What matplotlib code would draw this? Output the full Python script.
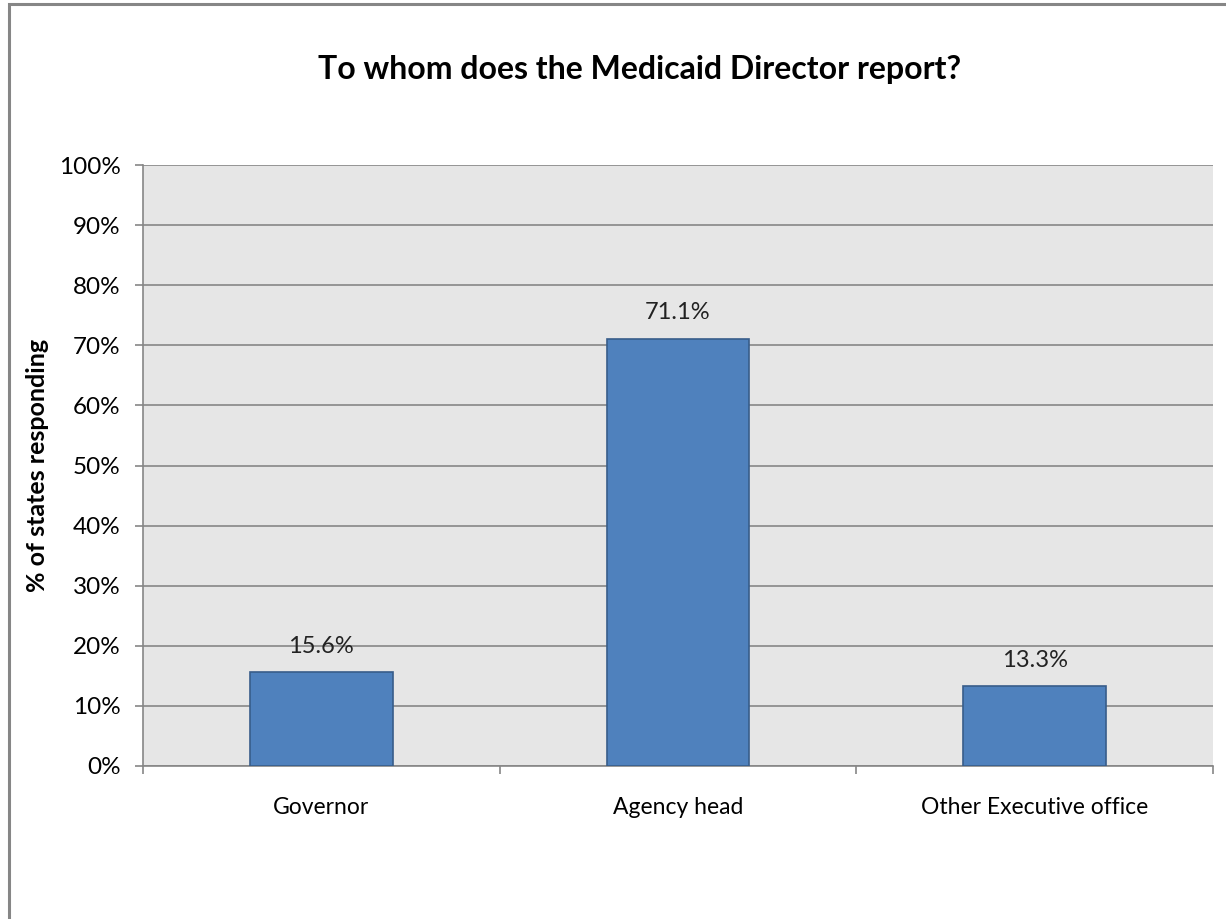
import matplotlib.pyplot as plt
from matplotlib.patches import Rectangle
from matplotlib.ticker import FixedLocator, PercentFormatter

# Survey results
categories = ['Governor', 'Agency head', 'Other Executive office']
shares = [15.6, 71.1, 13.3]
y_ticks = list(range(0, 101, 10))

plt.rcParams['font.family'] = ['Lato', 'DejaVu Sans']

W, H = 1226, 919
fig = plt.figure(figsize=(W / 100, H / 100), dpi=100)

# chart frame
fig.patches.append(Rectangle((9 / W, -0.05), 1.1, 1 - 4 / H + 0.05,
                             transform=fig.transFigure, fill=False,
                             edgecolor='#868686', linewidth=2.2))

ax = fig.add_axes([143 / W, 1 - 766 / H, (1213 - 143) / W, (766 - 165) / H])
ax.set_facecolor('#E6E6E6')

x = range(len(categories))
ax.bar(x, shares, width=0.4, color='#4F81BD', edgecolor='#385D8A', linewidth=1.2, zorder=3)
for xi, v in zip(x, shares):
    ax.annotate(f'{v:.1f}%', (xi, v), xytext=(0, 11), textcoords='offset points',
                ha='center', va='bottom', fontsize=17, color='#222222')

ax.set_xlim(-0.5, len(categories) - 0.5)
ax.set_ylim(0, 100)
ax.set_yticks(y_ticks)
ax.yaxis.set_major_formatter(PercentFormatter(decimals=0))
ax.grid(axis='y', color='#868686', linewidth=1.2, zorder=1)

ax.set_xticks(list(x))
ax.set_xticklabels(categories)
ax.xaxis.set_minor_locator(FixedLocator([i - 0.5 for i in range(len(categories) + 1)]))
ax.tick_params(axis='x', which='major', length=0, pad=22, labelsize=16.5)
ax.tick_params(axis='x', which='minor', length=6, width=1.2, color='#868686')
ax.tick_params(axis='y', length=6, width=1.2, color='#868686', labelsize=17.5, pad=10)

for side in ['top', 'right']:
    ax.spines[side].set_visible(False)
for side in ['left', 'bottom']:
    ax.spines[side].set_color('#868686')
    ax.spines[side].set_linewidth(1.2)

ax.set_ylabel('% of states responding', fontsize=18, fontweight='bold', labelpad=7)
fig.text(640 / W, 1 - 70 / H, 'To whom does the Medicaid Director report?',
         ha='center', va='center', fontsize=23, fontweight='bold')

fig.savefig('out.png', dpi=100)
